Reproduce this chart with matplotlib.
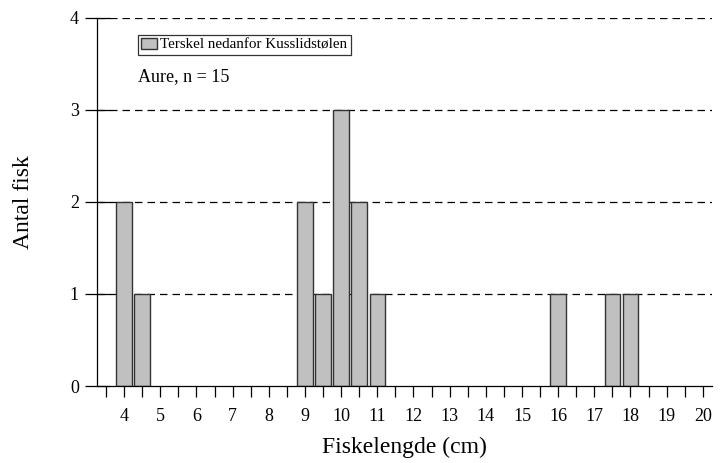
import matplotlib.pyplot as plt
import numpy as np

plt.rcParams['font.family'] = ['Liberation Serif', 'DejaVu Serif']

# data: length classes (cm) and number of fish
lengths = [4, 4.5, 9, 9.5, 10, 10.5, 11, 16, 17.5, 18]
counts = [2, 1, 2, 1, 3, 2, 1, 1, 1, 1]
legend_label = 'Terskel nedanfor Kusslidstølen'
note = 'Aure, n = 15'

fig = plt.figure(figsize=(7.2, 4.63), dpi=100)
ax = fig.add_axes([0.1347, 0.1663, 0.854, 0.795])

# dashed grid lines behind bars
for y in [1, 2, 3, 4]:
    ax.axhline(y, color='black', linestyle=(0, (6, 4)), linewidth=0.9, zorder=0)

ax.bar(lengths, counts, width=0.43, color='#c0c0c0', edgecolor='#333333',
       linewidth=1.0, label=legend_label, zorder=2)

ax.set_xlim(3.25, 20.25)
ax.set_ylim(0, 4)

# ticks every half cm, labels on whole cm
xt = np.arange(3.5, 20.01, 0.5)
ax.set_xticks(xt)
ax.set_xticklabels([str(int(t)) if t == int(t) else '' for t in xt], fontsize=13)
ax.tick_params(axis='x', direction='out', length=8, width=0.9, pad=8)
ax.set_yticks([0, 1, 2, 3, 4])
ax.set_yticklabels(['0', '1', '2', '3', '4'], fontsize=13)
ax.tick_params(axis='y', direction='inout', length=18, width=0.9, pad=4)

ax.spines['top'].set_visible(False)
ax.spines['right'].set_visible(False)
ax.spines['left'].set_linewidth(0.9)
ax.spines['bottom'].set_linewidth(0.9)

ax.set_xlabel('Fiskelengde (cm)', fontsize=17, labelpad=8)
ax.set_ylabel('Antal fisk', fontsize=17, labelpad=26)

leg = ax.legend(loc='upper left', bbox_to_anchor=(0.0667, 0.954), fontsize=10.8,
                frameon=True, fancybox=False, edgecolor='black',
                handlelength=1.1, handleheight=0.8, handletextpad=0.2,
                borderpad=0.2, borderaxespad=0)
leg.get_frame().set_linewidth(0.9)

ax.text(0.0667, 0.84, note, transform=ax.transAxes, fontsize=13, va='center')

plt.savefig('out.png', dpi=100)
